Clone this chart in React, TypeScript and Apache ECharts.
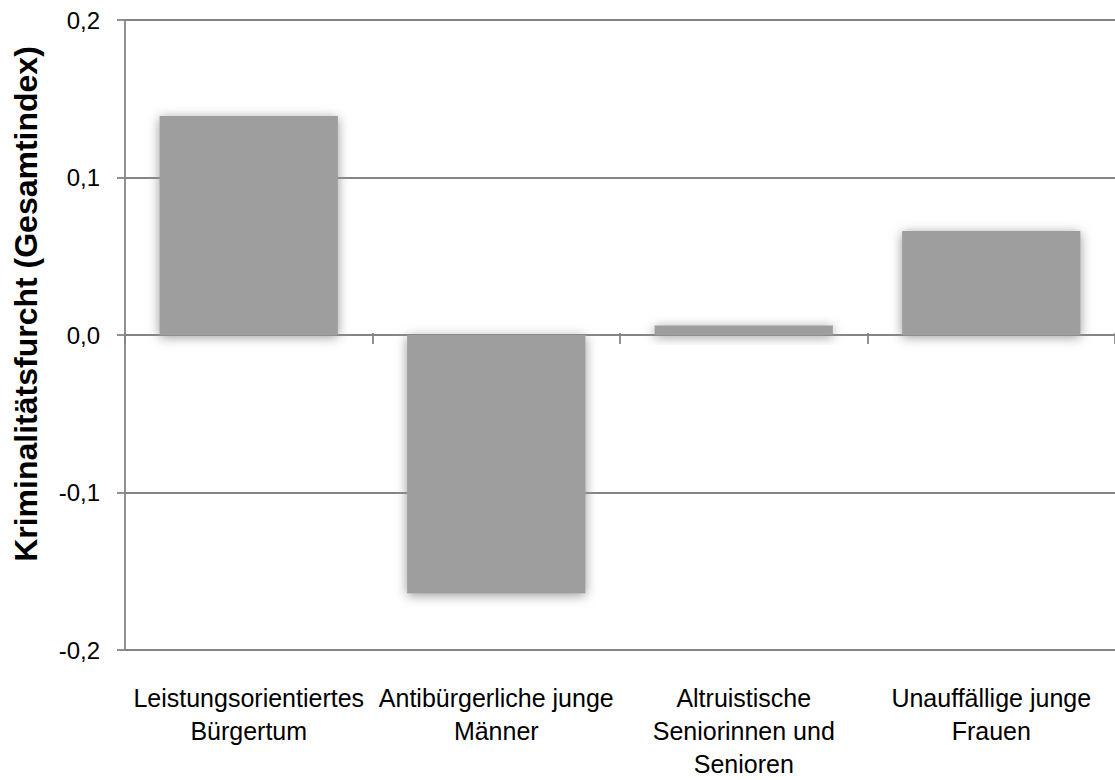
import React, { useEffect, useRef } from "react";
import * as echarts from "echarts";

const categories = [
  "Leistungsorientiertes\nBürgertum",
  "Antibürgerliche junge\nMänner",
  "Altruistische\nSeniorinnen und\nSenioren",
  "Unauffällige junge\nFrauen",
];
const values = [0.139, -0.164, 0.006, 0.066];
const yTickLabels: Record<string, string> = {
  "0.2": "0,2",
  "0.1": "0,1",
  "0": "0,0",
  "-0.1": "-0,1",
  "-0.2": "-0,2",
};
const yAxisTitle = "Kriminalitätsfurcht (Gesamtindex)";

const FONT = "'Liberation Sans', Arial, sans-serif";
const GRID_COLOR = "#858585";
const BAR_COLOR = "#9e9e9e";

export default function App() {
  const ref = useRef<HTMLDivElement>(null);
  useEffect(() => {
    if (!ref.current) return;
    const chart = echarts.init(ref.current, undefined, { renderer: "svg" });
    chart.setOption({
      animation: false,
      backgroundColor: "#ffffff",
      grid: { left: 125, right: -6, top: 20, bottom: 126, containLabel: false },
      xAxis: [
        {
          type: "category",
          data: categories,
          position: "bottom",
          axisLine: { show: true, onZero: false, lineStyle: { color: GRID_COLOR, width: 1.8 } },
          axisTick: { show: false },
          axisLabel: {
            interval: 0,
            margin: 31,
            fontFamily: FONT,
            fontSize: 25,
            lineHeight: 33,
            color: "#000",
          },
          splitLine: { show: false },
        },
        {
          type: "category",
          data: categories,
          position: "bottom",
          offset: -317,
          axisLine: { show: false, onZero: false },
          axisTick: { show: true, length: 11, lineStyle: { color: GRID_COLOR, width: 1.8 } },
          axisLabel: { show: false },
          splitLine: { show: false },
        },
      ],
      yAxis: {
        type: "value",
        min: -0.2,
        max: 0.2,
        interval: 0.1,
        axisLine: { show: true, lineStyle: { color: GRID_COLOR, width: 1.8 } },
        axisTick: { show: true, length: 8, lineStyle: { color: GRID_COLOR, width: 1.8 } },
        splitLine: { show: true, lineStyle: { color: GRID_COLOR, width: 1.8 } },
        axisLabel: {
          margin: 25,
          fontFamily: FONT,
          fontSize: 24,
          color: "#000",
          formatter: (v: number) => {
            const k = String(Math.round(v * 10) / 10);
            return yTickLabels[k] ?? String(v).replace(".", ",");
          },
        },
      },
      series: [
        {
          type: "bar",
          xAxisIndex: 0,
          data: values,
          barCategoryGap: "28%",
          itemStyle: {
            color: BAR_COLOR,
            shadowBlur: 12,
            shadowOffsetY: 2,
            shadowColor: "rgba(150,150,150,1)",
          },
        },
      ],
      graphic: [
        {
          type: "text",
          x: 26,
          y: 304,
          rotation: Math.PI / 2,
          style: {
            text: yAxisTitle,
            font: `bold 32px ${FONT}`,
            fill: "#000",
            textAlign: "center",
            textVerticalAlign: "middle",
          },
        },
      ],
    });
    return () => chart.dispose();
  }, []);
  return (
    <div
      ref={ref}
      style={{ position: "absolute", left: 0, top: 0, width: 1115, height: 780 }}
    />
  );
}
